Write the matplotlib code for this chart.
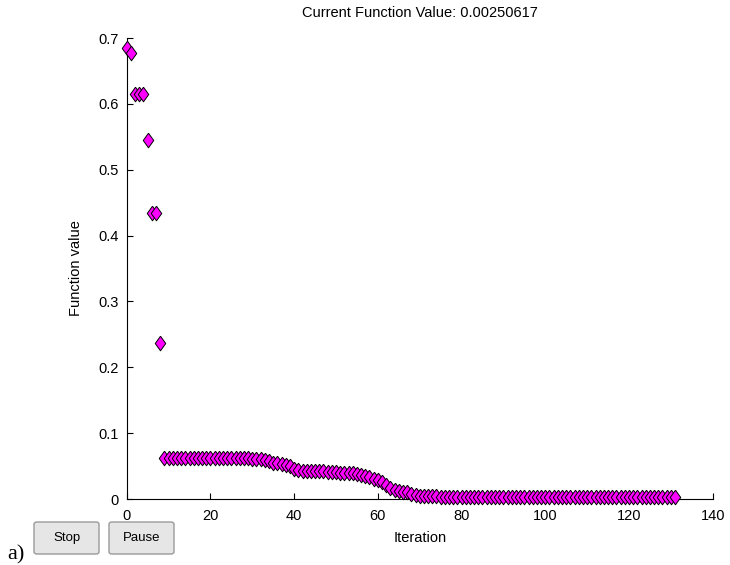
import matplotlib
matplotlib.use("Agg")
import matplotlib.pyplot as plt
from matplotlib.patches import FancyBboxPatch

plt.rcParams["font.family"] = ["Liberation Sans", "DejaVu Sans"]

# function value per iteration
early_vals = [0.685, 0.677, 0.615, 0.615, 0.615, 0.545, 0.435, 0.435, 0.237]
plateau_vals = [0.063] * 12 + [0.0625] * 4 + [0.062] * 5 + [0.061, 0.061, 0.060, 0.059, 0.058,
                0.055, 0.054, 0.053, 0.051, 0.050, 0.046, 0.044, 0.043] + [0.042] * 5 + [0.0415] * 3 + \
               [0.040] * 3 + [0.039, 0.038, 0.036, 0.035, 0.033, 0.031, 0.029, 0.026, 0.022, 0.017,
                0.013, 0.012, 0.011, 0.010, 0.008, 0.006, 0.005, 0.0045, 0.004, 0.004, 0.004]
tail_vals = [0.0035] * 5 + [0.003] * 10 + [0.0025] * 42
fvals = early_vals + plateau_vals + tail_vals
iterations = list(range(len(fvals)))

xticks = [0, 20, 40, 60, 80, 100, 120, 140]
yticks = [0, 0.1, 0.2, 0.3, 0.4, 0.5, 0.6, 0.7]
ytick_labels = ["0", "0.1", "0.2", "0.3", "0.4", "0.5", "0.6", "0.7"]
current_value = "0.00250617"

fig = plt.figure(figsize=(7.3, 5.65), dpi=100)
ax = fig.add_axes([0.1736, 0.1168, 0.8027, 0.8159])

diamond = [(0, 1), (0.72, 0), (0, -1), (-0.72, 0), (0, 1)]
ax.plot(iterations, fvals, linestyle="none", marker=diamond, markersize=10.5,
        markerfacecolor="#ff00ff", markeredgecolor="black", markeredgewidth=0.7,
        clip_on=False, zorder=3)

ax.set_xlim(0, 140)
ax.set_ylim(0, 0.7)
ax.set_xticks(xticks)
ax.set_yticks(yticks)
ax.set_yticklabels(ytick_labels)
ax.spines["top"].set_visible(False)
ax.spines["right"].set_visible(False)
ax.tick_params(direction="in", length=4, width=0.8, labelsize=10.5)
ax.tick_params(axis="x", pad=7)
ax.tick_params(axis="y", pad=6)
ax.set_xlabel("Iteration", fontsize=10.5, labelpad=6)
ax.set_ylabel("Function value", fontsize=10.5, labelpad=11)
ax.set_title(f"Current Function Value: {current_value}", fontsize=10.5, pad=15)

# Stop / Pause buttons
for label, x0 in [("Stop", 34), ("Pause", 109)]:
    w, h = 65, 32
    box = FancyBboxPatch((x0 / 730, (565 - 554) / 565), w / 730, h / 565,
                         boxstyle="round,pad=0,rounding_size=0.004",
                         transform=fig.transFigure, facecolor="#e6e6e6",
                         edgecolor="#9a9a9a", linewidth=1.0)
    fig.patches.append(box)
    fig.text((x0 + w / 2) / 730, (565 - 538) / 565, label, ha="center", va="center", fontsize=9.5)

fig.text(7 / 730, 1 / 565, "a)", fontsize=16, family="Liberation Serif", ha="left", va="bottom")

fig.savefig("out.png", dpi=100)
plt.close(fig)
